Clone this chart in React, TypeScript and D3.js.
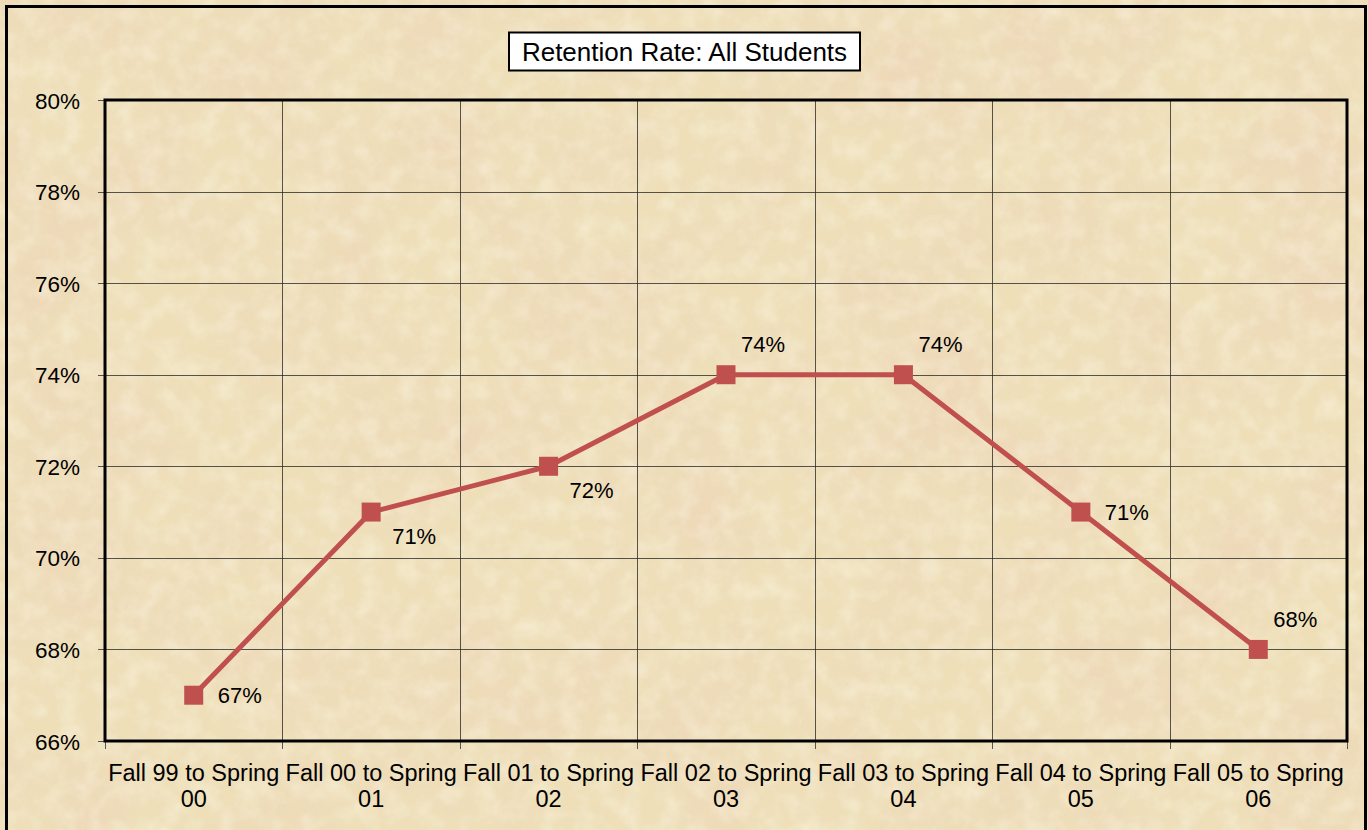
import React from "react";
import * as d3 from "d3";

const categories: string[][] = [
  ["Fall 99 to Spring", "00"],
  ["Fall 00 to Spring", "01"],
  ["Fall 01 to Spring", "02"],
  ["Fall 02 to Spring", "03"],
  ["Fall 03 to Spring", "04"],
  ["Fall 04 to Spring", "05"],
  ["Fall 05 to Spring", "06"],
];
const retention: number[] = [0.67, 0.71, 0.72, 0.74, 0.74, 0.71, 0.68];
const yTicks: number[] = [0.66, 0.68, 0.7, 0.72, 0.74, 0.76, 0.78, 0.8];
const labelPlacement: string[] = ["right", "belowRight", "belowRight", "aboveRight", "aboveRight", "right", "aboveRight"];
const title = "Retention Rate: All Students";

const W = 1368;
const H = 830;
const M = { left: 105, right: 1347, top: 100, bottom: 741 };
const FONT = "'Liberation Sans', Arial, sans-serif";
const RED = "#C0504D";

export default function App() {
  const x = d3.scaleBand<number>().domain(d3.range(categories.length)).range([M.left, M.right]).padding(0);
  const y = d3.scaleLinear().domain([0.66, 0.8]).range([M.bottom, M.top]);
  const cx = (i: number) => (x(i) as number) + x.bandwidth() / 2;
  const line = d3.line<number>().x((_, i) => cx(i)).y((d) => y(d));
  const fmt = d3.format(".0%");

  const offsets: Record<string, [number, number, string]> = {
    right: [24, 0, "start"],
    belowRight: [21, 24, "start"],
    aboveRight: [15, -30, "start"],
  };

  const boundaries = d3.range(categories.length + 1).map((i) => M.left + i * x.bandwidth());

  return (
    <div style={{ position: "absolute", left: 0, top: 0 }}>
      <svg width={W} height={H} style={{ display: "block" }}>
        <defs>
          <filter id="parch" x="0" y="0" width="100%" height="100%">
            <feTurbulence type="fractalNoise" baseFrequency="0.008" numOctaves="4" seed="7" result="n" />
            <feColorMatrix
              in="n"
              type="matrix"
              values="0 0 0 0 0.85  0 0 0 0 0.66  0 0 0 0 0.48  1.8 0 0 0 -0.72"
            />
          </filter>
          <filter id="parch2" x="0" y="0" width="100%" height="100%">
            <feTurbulence type="fractalNoise" baseFrequency="0.05" numOctaves="3" seed="2" result="n" />
            <feColorMatrix
              in="n"
              type="matrix"
              values="0 0 0 0 0.98  0 0 0 0 0.95  0 0 0 0 0.82  0 1.4 0 0 -0.55"
            />
          </filter>
        </defs>
        <rect x={0} y={0} width={W} height={H} fill="#EEDFB9" />
        <rect x={0} y={0} width={W} height={H} filter="url(#parch)" opacity={0.8} />
        <rect x={0} y={0} width={W} height={H} filter="url(#parch2)" opacity={0.55} />
        <rect x={6.5} y={6.5} width={1359} height={830} fill="none" stroke="#000" strokeWidth={3} />

        {yTicks.map((t) => (
          <line key={"g" + t} x1={M.left - 7} x2={M.right} y1={Math.round(y(t)) + 0.5} y2={Math.round(y(t)) + 0.5} stroke="#222" strokeWidth={1} opacity={0.75} />
        ))}
        {boundaries.slice(1, -1).map((bx, i) => (
          <line key={"v" + i} x1={Math.round(bx) + 0.5} x2={Math.round(bx) + 0.5} y1={M.top} y2={M.bottom} stroke="#222" strokeWidth={1} opacity={0.75} />
        ))}
        {boundaries.map((bx, i) => (
          <line key={"ct" + i} x1={Math.round(bx) + 0.5} x2={Math.round(bx) + 0.5} y1={M.bottom} y2={M.bottom + 8} stroke="#555" strokeWidth={1} />
        ))}
        <rect x={M.left} y={M.top} width={M.right - M.left} height={M.bottom - M.top} fill="none" stroke="#000" strokeWidth={3} />

        {yTicks.map((t) => (
          <text key={"yl" + t} x={80} y={y(t) + 1} textAnchor="end" dominantBaseline="central" fontFamily={FONT} fontSize={22.5} fill="#000">
            {fmt(t)}
          </text>
        ))}
        {categories.map((c, i) => (
          <text key={"xl" + i} textAnchor="middle" fontFamily={FONT} fontSize={23.5} fill="#000">
            {c.map((ln, j) => (
              <tspan key={j} x={cx(i)} y={773 + j * 26} dominantBaseline="central">
                {ln}
              </tspan>
            ))}
          </text>
        ))}

        <path d={line(retention) || ""} fill="none" stroke={RED} strokeWidth={5} strokeLinejoin="round" />
        {retention.map((v, i) => (
          <rect key={"m" + i} x={cx(i) - 9.5} y={y(v) - 9.5} width={19} height={19} fill={RED} />
        ))}
        {retention.map((v, i) => {
          const [dx, dy, anchor] = offsets[labelPlacement[i]];
          return (
            <text key={"dl" + i} x={cx(i) + dx} y={y(v) + dy} textAnchor={anchor} dominantBaseline="central" fontFamily={FONT} fontSize={22} fill="#000">
              {fmt(v)}
            </text>
          );
        })}

        <rect x={509} y={32.5} width={351} height={38} fill="#fff" stroke="#000" strokeWidth={2} />
        <text x={684.5} y={52} textAnchor="middle" dominantBaseline="central" fontFamily={FONT} fontSize={26} fill="#000">
          {title}
        </text>
      </svg>
    </div>
  );
}
